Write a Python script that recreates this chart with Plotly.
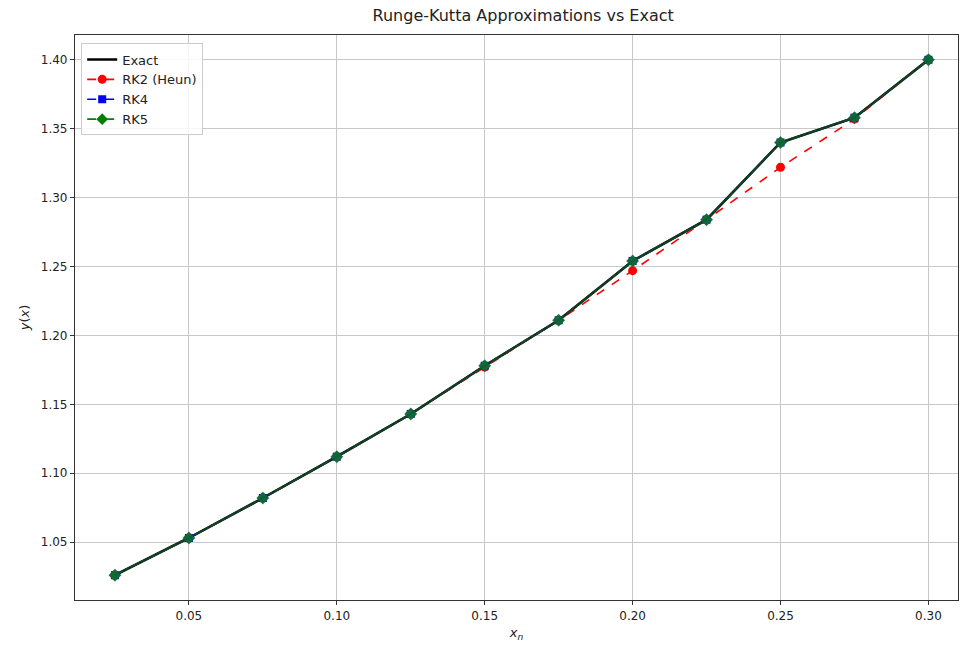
import plotly.graph_objects as go

# Grid points and solution values
x_n = [0.025, 0.05, 0.075, 0.10, 0.125, 0.15, 0.175, 0.20, 0.225, 0.25, 0.275, 0.30]
y_exact = [1.026, 1.053, 1.082, 1.112, 1.143, 1.178, 1.211, 1.254, 1.284, 1.340, 1.358, 1.400]
y_rk2 = [1.026, 1.053, 1.082, 1.112, 1.143, 1.177, 1.211, 1.247, 1.284, 1.322, 1.357, 1.400]
y_rk4 = [1.026, 1.053, 1.082, 1.112, 1.143, 1.178, 1.211, 1.254, 1.284, 1.340, 1.358, 1.400]
y_rk5 = [1.026, 1.053, 1.082, 1.112, 1.143, 1.178, 1.211, 1.254, 1.284, 1.340, 1.358, 1.400]

x_ticks = [0.05, 0.10, 0.15, 0.20, 0.25, 0.30]
y_ticks = [1.05, 1.10, 1.15, 1.20, 1.25, 1.30, 1.35, 1.40]

FONT = "DejaVu Sans"

fig = go.Figure()
fig.add_trace(go.Scatter(x=x_n, y=y_exact, mode="lines", name="Exact",
                         line=dict(color="black", width=2.5)))
fig.add_trace(go.Scatter(x=x_n, y=y_rk2, mode="lines+markers", name="RK2 (Heun)",
                         line=dict(color="red", width=1.6, dash="dash"),
                         marker=dict(symbol="circle", size=9, color="red")))
fig.add_trace(go.Scatter(x=x_n, y=y_rk4, mode="lines+markers", name="RK4",
                         line=dict(color="blue", width=1.6, dash="dash"),
                         marker=dict(symbol="square", size=8, color="blue")))
fig.add_trace(go.Scatter(x=x_n, y=y_rk5, mode="lines+markers", name="RK5",
                         line=dict(color="green", width=1.6, dash="dashdot"),
                         marker=dict(symbol="diamond", size=9, color="green")))
# Exact curve drawn over the markers so the line reads as a dark solid path
fig.add_trace(go.Scatter(x=x_n, y=y_exact, mode="lines", showlegend=False,
                         line=dict(color="rgba(20,60,40,0.85)", width=2.5),
                         hoverinfo="skip"))
# Semi-transparent tint over the RK4/RK5 marker stack
fig.add_trace(go.Scatter(x=x_n, y=y_rk5, mode="markers", showlegend=False,
                         marker=dict(symbol="diamond", size=10,
                                     color="rgba(20,100,70,0.75)"),
                         hoverinfo="skip"))

axis_common = dict(
    showgrid=True, gridcolor="#c8c8c8", gridwidth=1,
    showline=True, linecolor="#333", linewidth=1.2, mirror=True,
    ticks="outside", ticklen=4, tickcolor="#333",
    tickfont=dict(family=FONT, size=12, color="#222"),
    zeroline=False,
)

fig.update_layout(
    width=960, height=649,
    margin=dict(l=75, r=2, t=35, b=49),
    paper_bgcolor="white", plot_bgcolor="white",
    title=dict(text="Runge-Kutta Approximations vs Exact", x=0.545, xanchor="center",
               y=0.985, yanchor="top",
               font=dict(family=FONT, size=16, color="#222")),
    xaxis=dict(range=[0.0115, 0.310], tickvals=x_ticks,
               ticktext=[f"{v:.2f}" for v in x_ticks],
               title=dict(text="<i>x<sub>n</sub></i>", standoff=6,
                          font=dict(family=FONT, size=13, color="#222")),
               **axis_common),
    yaxis=dict(range=[1.008, 1.418], tickvals=y_ticks,
               ticktext=[f"{v:.2f}" for v in y_ticks],
               title=dict(text="<i>y</i>(<i>x</i>)", standoff=8,
                          font=dict(family=FONT, size=13, color="#222")),
               **axis_common),
    legend=dict(x=0.007, y=0.985, xanchor="left", yanchor="top",
                bgcolor="rgba(255,255,255,0.85)", bordercolor="#ccc", borderwidth=1,
                font=dict(family=FONT, size=13, color="#222"),
                tracegroupgap=2),
    showlegend=True,
)

fig.write_html("out.html")
